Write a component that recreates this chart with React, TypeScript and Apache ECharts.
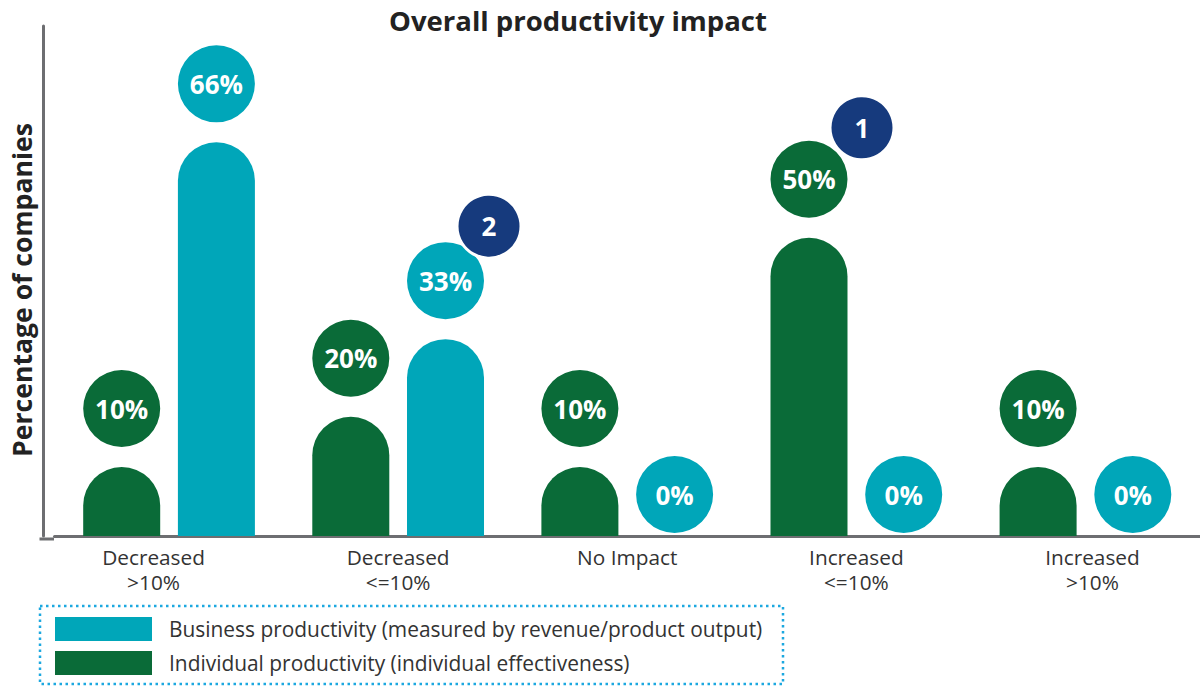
import React, { useEffect, useRef } from "react";
import * as echarts from "echarts";

const categories = [
  "Decreased\n>10%",
  "Decreased\n<=10%",
  "No Impact",
  "Increased\n<=10%",
  "Increased\n>10%",
];
const individualValues = [10, 20, 10, 50, 10];
const businessValues = [66, 33, 0, 0, 0];
const seriesNames = [
  "Business productivity (measured by revenue/product output)",
  "Individual productivity (individual effectiveness)",
];
const footnotes = [
  { series: "business", category: 1, value: 33, text: "2" },
  { series: "individual", category: 3, value: 50, text: "1" },
];

const TEAL = "#00A6B9";
const GREEN = "#0A6B38";
const NAVY = "#163A7D";
const FONT = "'Open Sans', sans-serif";

function buildData(values: number[]) {
  return values.map((v) => {
    if (v === 0) {
      return {
        value: v,
        itemStyle: { color: "rgba(0,0,0,0)" },
        label: { position: "insideBottom", distance: 3 },
      };
    }
    return { value: v };
  });
}

function labelStyle(color: string) {
  return {
    show: true,
    position: "top",
    distance: 20,
    formatter: "{c}%",
    color: "#fff",
    fontFamily: FONT,
    fontWeight: "bold",
    fontSize: 26,
    backgroundColor: color,
    width: 77,
    height: 77,
    lineHeight: 77,
    align: "center",
    borderRadius: 38.5,
    padding: 0,
  };
}

function markPoints(key: string) {
  const offsets: Record<string, number[]> = { "2": [43.5, -113], "1": [53, -110] };
  return {
    symbol: "circle",
    symbolSize: 64,
    itemStyle: { color: NAVY, borderColor: "#fff", borderWidth: 3 },
    label: {
      show: true,
      position: "inside",
      color: "#fff",
      fontFamily: FONT,
      fontWeight: "bold",
      fontSize: 26,
    },
    data: footnotes
      .filter((f) => f.series === key)
      .map((f) => ({
        coord: [f.category, f.value],
        symbolOffset: offsets[f.text],
        label: { formatter: f.text },
      })),
  };
}

export default function App() {
  const ref = useRef<HTMLDivElement>(null);
  useEffect(() => {
    document.body.style.margin = "0";
    const chart = echarts.init(ref.current!, null, { renderer: "svg" });
    const option: any = {
      animation: false,
      textStyle: { fontFamily: FONT },
      title: {
        text: "Overall productivity impact",
        left: 389,
        top: 6,
        padding: 0,
        textStyle: { fontFamily: FONT, fontWeight: "bold", fontSize: 27.5, color: "#222" },
      },
      legend: {
        orient: "vertical",
        left: 55,
        top: 617,
        padding: 0,
        itemWidth: 97,
        itemHeight: 24,
        itemGap: 10,
        icon: "rect",
        selectedMode: false,
        data: seriesNames,
        textStyle: { fontFamily: FONT, fontSize: 20.9, color: "#333", padding: [0, 0, 0, 12] },
      },
      grid: { left: 52.5, right: -7.5, top: 26, bottom: 150, containLabel: false },
      xAxis: {
        type: "category",
        data: categories.map((c, i) =>
          i === 0
            ? { value: c, textStyle: { padding: [0, 31, 0, 0] } }
            : i === 4
            ? { value: c, textStyle: { padding: [0, 0, 0, 14] } }
            : c
        ),
        offset: 3,
        axisLine: { lineStyle: { color: "#6D6E71", width: 3 } },
        axisTick: { show: false },
        axisLabel: {
          interval: 0,
          margin: 5,
          fontFamily: FONT,
          fontSize: 20.8,
          lineHeight: 25.5,
          color: "#333",
        },
      },
      yAxis: {
        type: "value",
        min: 0,
        max: 85.5,
        offset: 11.5,
        name: "Percentage of companies",
        nameLocation: "middle",
        nameRotate: 90,
        nameGap: 8,
        nameTextStyle: {
          fontFamily: FONT,
          fontWeight: "bold",
          fontSize: 26.6,
          color: "#222",
          padding: [0, 18, 0, 0],
        },
        axisLine: { show: true, lineStyle: { color: "#6D6E71", width: 3 } },
        axisTick: { show: false },
        axisLabel: { show: false },
        splitLine: { show: false },
      },
      graphic: [
        {
          type: "line",
          shape: { x1: 39.5, y1: 539, x2: 54, y2: 539 },
          style: { stroke: "#6D6E71", lineWidth: 3 },
        },
        {
          type: "rect",
          shape: { x: 40, y: 606, width: 743, height: 78 },
          style: { fill: "none", stroke: "#1CA8E0", lineWidth: 2.5, lineDash: [2.5, 3.5] },
        },
      ],
      series: [
        {
          name: seriesNames[1],
          type: "bar",
          barWidth: 77,
          barGap: "23%",
          barMinHeight: 69,
          itemStyle: { color: GREEN, borderRadius: [38.5, 38.5, 0, 0] },
          label: labelStyle(GREEN),
          data: buildData(individualValues),
          markPoint: markPoints("individual"),
        },
        {
          name: seriesNames[0],
          type: "bar",
          barWidth: 77,
          barGap: "23%",
          barMinHeight: 69,
          itemStyle: { color: TEAL, borderRadius: [38.5, 38.5, 0, 0] },
          label: labelStyle(TEAL),
          data: buildData(businessValues),
          markPoint: markPoints("business"),
        },
      ],
    };
    chart.setOption(option);
    return () => chart.dispose();
  }, []);
  return <div ref={ref} style={{ width: 1200, height: 686 }} />;
}
